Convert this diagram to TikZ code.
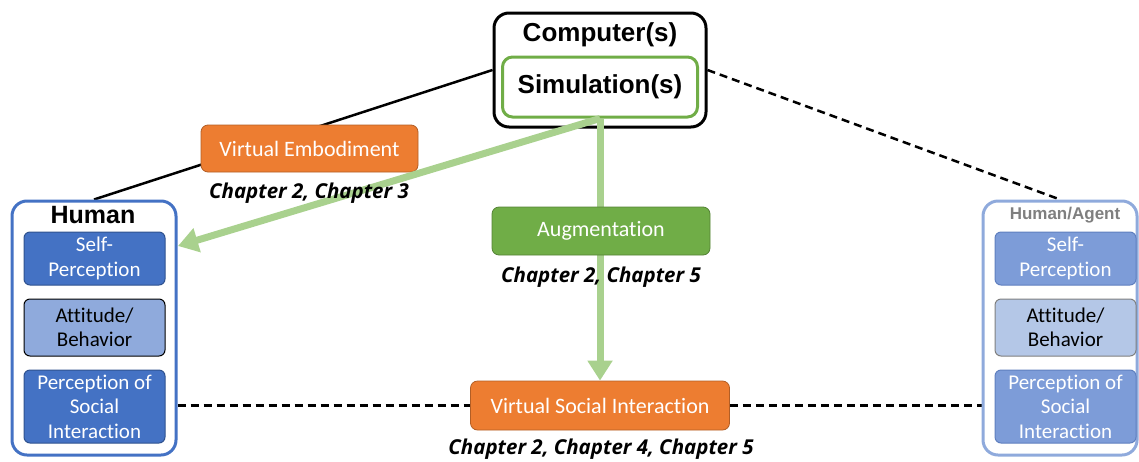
\documentclass[tikz,border=0pt]{standalone}
\usepackage{fontspec}
\setmainfont{Carlito}[Ligatures=NoCommon]
\newfontfamily\headfont{Liberation Sans}
\newfontfamily\chapfont{Open Sans}
\usetikzlibrary{arrows.meta}
\definecolor{vorange}{HTML}{ED7D31}
\definecolor{vgreen}{HTML}{70AD47}
\definecolor{arrgreen}{HTML}{A9D18E}
\definecolor{vblue}{HTML}{4472C4}
\definecolor{vblueD}{HTML}{2F528F}
\definecolor{vblueL}{HTML}{8FAADC}
\definecolor{rblue}{HTML}{7D9CD8}
\definecolor{rblueD}{HTML}{5F7FBF}
\definecolor{rblueL}{HTML}{B4C7E7}
\definecolor{agray}{HTML}{7F7F7F}
\pgfdeclarelayer{back}
\pgfsetlayers{back,main}

\begin{document}
\begin{tikzpicture}[x=1pt,y=-1pt,
    frame/.style={draw,line width=3pt,rounded corners=15pt,inner sep=0pt},
    tag/.style={draw=#1!75!black,line width=.8pt,fill=#1,rounded corners=7pt,text=white,
      font=\fontsize{22}{26}\selectfont,minimum height=48pt},
    inbox/.style={rounded corners=6pt,minimum width=141pt,align=center,line width=1pt,
      font=\fontsize{21}{24.5}\selectfont,inner sep=1pt},
    chap/.style={font=\chapfont\bfseries\itshape\fontsize{20.5}{24}\selectfont},
    link/.style={line width=2.5pt},
    flow/.style={line width=7pt,draw=arrgreen,-{Triangle[length=20pt,width=24pt,fill=arrgreen]}}]
  \useasboundingbox (0,0) rectangle (1139,461);
  % computer and simulation
  \node[frame,minimum width=212pt,minimum height=114pt] (comp) at (600,70) {};
  \node[font=\headfont\bfseries\fontsize{26}{30}\selectfont] (compT) at (600,35) {Computer(s)};
  \node[frame,draw=vgreen,rounded corners=10pt,minimum width=195pt,minimum height=60pt,
    font=\headfont\bfseries\fontsize{26}{30}\selectfont] (sim) at (600,87) {Simulation(s)};
  % the two sides
  \node[frame,draw=vblue,minimum width=164pt,minimum height=254pt] (hum) at (94,328) {};
  \node[font=\headfont\bfseries\fontsize{25}{28}\selectfont] (humT) at (93,215) {Human};
  \node[frame,draw=vblueL,minimum width=154pt,minimum height=254pt] (ha) at (1060,328) {};
  \node[font=\headfont\bfseries\fontsize{17}{20}\selectfont,text=agray] (haT) at (1065,215) {Human/Agent};
  \foreach \s/\x/\fa/\fb/\da/\db in {L/94.5/vblue/vblueL/vblueD/black, R/1065.5/rblue/rblueL/rblueD/agray}{
    \node[inbox,fill=\fa,draw=\da,text=white,minimum height=53pt] (self\s) at (\x,258.5) {Self-\\Perception};
    \node[inbox,fill=\fb,draw=\db,minimum height=57pt] (att\s) at (\x,327.5) {Attitude/\\Behavior};
    \node[inbox,fill=\fa,draw=\da,text=white,minimum height=73pt] (psi\s) at (\x,406.5) {Perception of\\Social\\Interaction};
  }
  \node[tag=vorange,minimum width=217pt,minimum height=47pt] (ve) at (309.5,148.5) {Virtual Embodiment};
  \node[tag=vorange,minimum width=259pt,minimum height=49pt] (vsi) at (600,405.5) {Virtual Social Interaction};
  % links behind
  \begin{pgfonlayer}{back}
    \draw[link] (comp.west) -- (hum.north);
    \draw[link,dash pattern=on 8pt off 5pt] (comp.east) -- (ha.north);
    \draw[link,dash pattern=on 8pt off 5pt] (hum.east |- vsi.west) -- (vsi.west)
                                            (vsi.east) -- (ha.west |- vsi.east);
  \end{pgfonlayer}
  % arrows
  \coordinate (veTip) at (178,246);
  \draw[flow] (sim.south) -- (veTip);
  \draw[flow] (sim.south) -- (vsi.north);
  \node[tag=vgreen,minimum width=218pt] (aug) at (601,231) {Augmentation};
  \foreach \n/\x/\y/\t in {ch3/309/193/{Chapter 2, Chapter 3}, ch5/601/277/{Chapter 2, Chapter 5},
      ch45/601/449/{Chapter 2, Chapter 4, Chapter 5}}{
    \node[chap] (\n) at (\x,\y) {\t};
  }
\end{tikzpicture}
\end{document}
